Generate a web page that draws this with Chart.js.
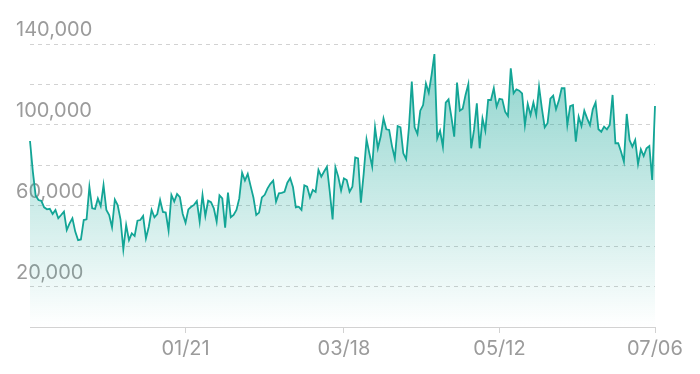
<!DOCTYPE html>
<html>
<head>
<meta charset="utf-8">
<script src="https://cdn.jsdelivr.net/npm/chart.js@4/dist/chart.umd.min.js"></script>
<style>
  html, body { margin: 0; padding: 0; background: #fff; }
  #wrap { width: 700px; height: 374px; position: relative; }
</style>
</head>
<body>
<div id="wrap"><canvas id="chart"></canvas></div>
<script>
// daily values, 11/27 .. 07/06
var values = [
  92000, 77000, 65000, 62800, 62400, 59200, 58200, 58500, 55900, 57900,
  53800, 55400, 57100, 48000, 51300, 53800, 47200, 43000, 43300, 52900,
  53300, 69400, 58700, 58400, 63600, 59800, 70200, 57900, 55400, 49300,
  63000, 60300, 53300, 38400, 50500, 43000, 46300, 45000, 52600, 52900,
  54900, 43900, 49600, 57900, 54300, 55900, 62800, 56900, 56600, 47700,
  65300, 62000, 65800, 64200, 55900, 51600, 58200, 59500, 60400, 62300,
  52100, 65300, 54900, 62500, 61800, 58700, 52100, 65100, 63600, 49100,
  66500, 54300, 55400, 57900, 63600, 76300, 72400, 75700, 69800, 64100,
  55400, 56600, 64100, 65400, 68600, 70800, 72400, 62000, 66100, 66400,
  66900, 71400, 73600, 69100, 59200, 59500, 57900, 70100, 69400, 64100,
  67800, 66800, 77700, 74400, 76900, 79300, 66900, 53200, 79000, 74400,
  67500, 73500, 72700, 66900, 69400, 83900, 83400, 61500, 76000, 92800,
  85900, 79300, 98800, 88400, 94200, 103200, 97800, 97500, 89500, 83400,
  99400, 98800, 85900, 83000, 98800, 121400, 98800, 95500, 107000, 109800,
  120500, 115900, 124700, 135000, 93300, 97100, 89200, 111000, 112600, 104000,
  94200, 120900, 107000, 108000, 114800, 120200, 88400, 97500, 110600, 88400,
  103200, 97100, 112300, 112300, 118100, 109000, 112900, 112600, 106500, 104400,
  128000, 115600, 117600, 116900, 115600, 99900, 110300, 104900, 111000, 104900,
  118900, 108200, 98800, 100800, 113000, 114500, 107700, 112000, 118100, 118100,
  99900, 109300, 109800, 91700, 104000, 99400, 107000, 103200, 99900, 107700,
  111100, 97800, 96600, 99100, 97800, 99900, 114800, 90900, 90900, 86700,
  81800, 105400, 92500, 89200, 92500, 80600, 87900, 84600, 88400, 89500,
  72700, 109300
];

var startDate = new Date(2022, 10, 27);
var tickLabels = ['01/21', '03/18', '05/12', '07/06'];
var yLabelled = [20000, 60000, 100000, 140000];

// category labels MM/DD, one per day
var labels = [];
for (var i = 0; i < values.length; i++) {
  var d = new Date(startDate.getFullYear(), startDate.getMonth(), startDate.getDate() + i);
  var mm = String(d.getMonth() + 1).padStart(2, '0');
  var dd = String(d.getDate()).padStart(2, '0');
  labels.push(mm + '/' + dd);
}

var TEAL = '#13a596';
var GREY_TEXT = '#9b9b9b';
var GRID = '#d2d2d2';
var FONT = 'Inter, "Noto Sans", sans-serif';

var ctx = document.getElementById('chart').getContext('2d');
new Chart(ctx, {
  type: 'line',
  data: {
    labels: labels,
    datasets: [{
      data: values,
      borderColor: TEAL,
      borderWidth: 1.8,
      pointRadius: 0,
      tension: 0,
      fill: 'origin',
      backgroundColor: function (c) {
        var area = c.chart.chartArea;
        if (!area) return 'rgba(19,165,150,0.3)';
        var g = c.chart.ctx.createLinearGradient(0, area.top, 0, area.bottom);
        g.addColorStop(0, 'rgba(19,165,150,0.5)');
        g.addColorStop(1, 'rgba(19,165,150,0)');
        return g;
      }
    }]
  },
  options: {
    responsive: true,
    maintainAspectRatio: false,
    animation: false,
    layout: { padding: { left: 16, right: 45, top: 44, bottom: 0 } },
    plugins: { legend: { display: false }, tooltip: { enabled: false } },
    scales: {
      x: {
        grid: { drawOnChartArea: false, drawTicks: true, tickLength: 6, color: GRID },
        border: { display: true, color: GRID, width: 1 },
        ticks: {
          autoSkip: false, maxRotation: 0, padding: 4,
          color: GREY_TEXT, font: { family: FONT, size: 20 }
        },
        afterBuildTicks: function (scale) {
          // only keep the dated ticks
          scale.ticks = scale.ticks.filter(function (t) {
            return tickLabels.indexOf(labels[t.value]) !== -1;
          });
        },
        afterFit: function (scale) { scale.height = 47; }
      },
      y: {
        min: 0, max: 140000,
        grid: { drawTicks: false, color: GRID, lineWidth: 1 },
        border: { display: false, dash: [4, 4] },
        ticks: {
          stepSize: 20000,
          mirror: true,       // labels drawn without clipping, shifted back left
          padding: -14,
          labelOffset: -14,
          color: GREY_TEXT, font: { family: FONT, size: 20 },
          callback: function (v) {
            return yLabelled.indexOf(v) !== -1 ? v.toLocaleString('en-US') : '';
          }
        },
        afterFit: function (scale) { scale.width = 14; }
      }
    }
  }
});
</script>
</body>
</html>
